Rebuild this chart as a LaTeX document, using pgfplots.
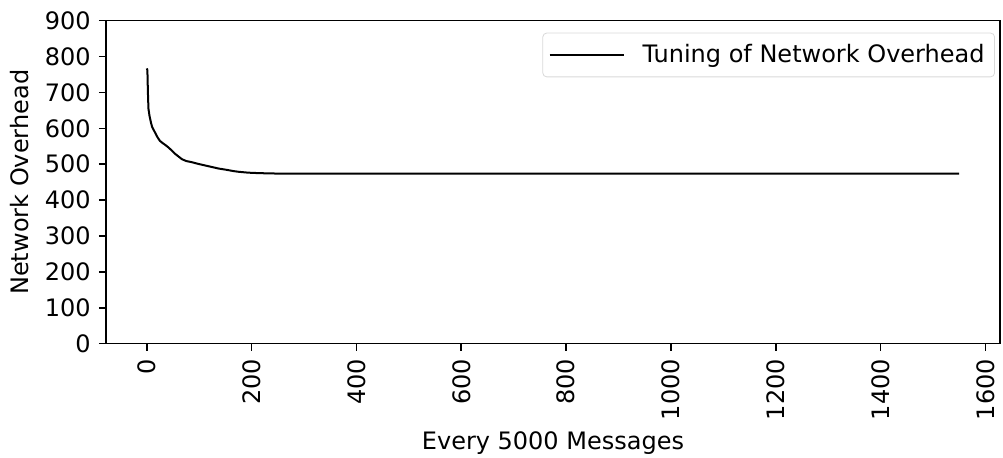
\documentclass[border=0pt]{standalone}
\usepackage{fontspec}
\setmainfont{DejaVu Sans}
\usepackage{pgfplots}
\pgfplotsset{compat=1.18}
\begin{document}
\fontsize{12}{14}\selectfont
\begin{tikzpicture}
\begin{axis}[
 scale only axis, width=447pt, height=161.5pt,
 xmin=-78, xmax=1628, ymin=0, ymax=900,
 xtick={0,200,...,1600}, ytick={0,100,...,900},
 x tick label style={rotate=90, anchor=east},
 tick align=outside, tick pos=left, major tick length=3.5pt,
 /pgf/number format/assume math mode=true,
 /pgf/number format/set thousands separator={},
 xlabel={Every 5000 Messages}, ylabel={Network Overhead},
 xlabel style={yshift=2.5pt},
 legend style={at={(0.9944,0.963)}, anchor=north east, draw=gray!30, rounded corners=2pt, font=\fontsize{12}{14}\selectfont, inner xsep=3pt, inner ysep=3.5pt},
 legend cell align=left,
 legend image code/.code={\draw[#1, line width=0.9pt] (0pt,0pt) -- (37pt,0pt);},
 axis line style={line width=0.8pt},
 every tick/.style={black, line width=0.8pt},
]
\addplot[black, line width=1pt] coordinates {
(0,767)(1,762)(2,700)(3,655)(5,635)(8,615)(10,604)(15,590)(20,576)(25,565)(30,559)(35,554)(41,547)(47,539)(53,530)(60,522)(67,514)(75,509)(85,506)(98,501)(110,497)(125,492)(137,488)(150,485)(165,481)(175,479)(190,477)(200,476)(220,475)(250,474)(400,474)(1550,474)
};
\legend{\hspace{7pt}Tuning of Network Overhead}
\end{axis}
\pgfresetboundingbox
\path[use as bounding box] ([shift={(-53pt,-57.15pt)}]current axis.south west) rectangle ([shift={(1.5pt,10.35pt)}]current axis.north east);
\end{tikzpicture}
\end{document}
